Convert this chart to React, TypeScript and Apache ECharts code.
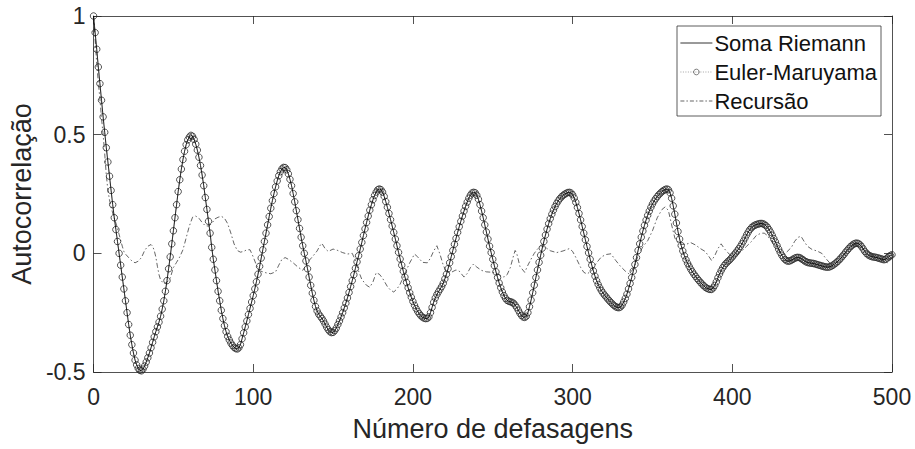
import React, { useEffect, useRef } from "react";
import * as echarts from "echarts";

// Autocorrelation, one value per lag (0..500)
const eulerMaruyama: number[] = [
  1.0, 0.93, 0.86, 0.785, 0.715, 0.645, 0.575, 0.51, 0.445, 0.385,
  0.325, 0.265, 0.205, 0.15, 0.1, 0.05, 0.0, -0.05, -0.1, -0.15,
  -0.2, -0.25, -0.3, -0.345, -0.385, -0.42, -0.45, -0.47, -0.485, -0.493,
  -0.495, -0.488, -0.475, -0.458, -0.44, -0.42, -0.398, -0.375, -0.352, -0.33,
  -0.31, -0.29, -0.265, -0.235, -0.2, -0.16, -0.115, -0.065, -0.015, 0.04,
  0.095, 0.15, 0.205, 0.26, 0.31, 0.355, 0.395, 0.43, 0.458, 0.478,
  0.49, 0.497, 0.493, 0.48, 0.46, 0.435, 0.405, 0.37, 0.33, 0.285,
  0.235, 0.185, 0.135, 0.085, 0.025, -0.025, -0.07, -0.115, -0.16, -0.2,
  -0.24, -0.275, -0.305, -0.33, -0.35, -0.365, -0.378, -0.388, -0.396, -0.401,
  -0.403, -0.398, -0.385, -0.36, -0.335, -0.31, -0.285, -0.258, -0.232, -0.205,
  -0.178, -0.15, -0.12, -0.088, -0.055, -0.02, 0.015, 0.05, 0.085, 0.12,
  0.155, 0.19, 0.222, 0.252, 0.28, 0.305, 0.327, 0.344, 0.356, 0.362,
  0.361, 0.352, 0.335, 0.312, 0.285, 0.252, 0.217, 0.18, 0.142, 0.105,
  0.068, 0.032, 0.0, -0.032, -0.065, -0.1, -0.135, -0.168, -0.198, -0.224,
  -0.243, -0.256, -0.265, -0.274, -0.285, -0.298, -0.311, -0.322, -0.33, -0.334,
  -0.333, -0.326, -0.315, -0.3, -0.285, -0.268, -0.25, -0.23, -0.21, -0.188,
  -0.165, -0.14, -0.115, -0.09, -0.063, -0.036, -0.01, 0.018, 0.046, 0.075,
  0.103, 0.13, 0.157, 0.182, 0.205, 0.226, 0.244, 0.258, 0.268, 0.271,
  0.268, 0.258, 0.24, 0.218, 0.194, 0.168, 0.142, 0.115, 0.088, 0.06,
  0.032, 0.004, -0.024, -0.05, -0.076, -0.1, -0.123, -0.145, -0.166, -0.185,
  -0.203, -0.219, -0.233, -0.245, -0.255, -0.263, -0.269, -0.273, -0.275, -0.274,
  -0.268, -0.25, -0.228, -0.206, -0.188, -0.174, -0.162, -0.151, -0.14, -0.126,
  -0.108, -0.088, -0.065, -0.04, -0.014, 0.012, 0.038, 0.063, 0.088, 0.112,
  0.135, 0.157, 0.178, 0.198, 0.216, 0.232, 0.245, 0.254, 0.257, 0.255,
  0.245, 0.228, 0.205, 0.178, 0.15, 0.12, 0.09, 0.06, 0.03, 0.003,
  -0.025, -0.052, -0.078, -0.102, -0.125, -0.145, -0.163, -0.178, -0.19, -0.198,
  -0.202, -0.204, -0.206, -0.21, -0.218, -0.228, -0.24, -0.252, -0.262, -0.268,
  -0.27, -0.265, -0.25, -0.225, -0.197, -0.166, -0.134, -0.102, -0.07, -0.038,
  -0.008, 0.022, 0.05, 0.077, 0.102, 0.125, 0.146, 0.165, 0.182, 0.197,
  0.21, 0.221, 0.23, 0.238, 0.244, 0.249, 0.253, 0.256, 0.257, 0.254,
  0.247, 0.233, 0.215, 0.193, 0.168, 0.141, 0.113, 0.085, 0.057, 0.029,
  0.002, -0.025, -0.05, -0.074, -0.096, -0.115, -0.131, -0.145, -0.157, -0.167,
  -0.176, -0.184, -0.192, -0.2, -0.207, -0.214, -0.22, -0.225, -0.228, -0.229,
  -0.226, -0.218, -0.205, -0.19, -0.172, -0.15, -0.127, -0.102, -0.075, -0.047,
  -0.018, 0.012, 0.04, 0.068, 0.094, 0.118, 0.14, 0.16, 0.178, 0.194,
  0.208, 0.22, 0.23, 0.239, 0.247, 0.254, 0.26, 0.265, 0.269, 0.271,
  0.268, 0.255, 0.232, 0.2, 0.165, 0.128, 0.092, 0.06, 0.033, 0.01,
  -0.01, -0.027, -0.042, -0.055, -0.067, -0.078, -0.088, -0.097, -0.106, -0.114,
  -0.122, -0.129, -0.136, -0.142, -0.147, -0.15, -0.152, -0.152, -0.146, -0.135,
  -0.12, -0.103, -0.087, -0.073, -0.061, -0.051, -0.043, -0.036, -0.03, -0.023,
  -0.015, -0.007, 0.001, 0.01, 0.019, 0.029, 0.04, 0.052, 0.065, 0.078,
  0.09, 0.1, 0.108, 0.114, 0.118, 0.121, 0.123, 0.125, 0.126, 0.125,
  0.122, 0.117, 0.11, 0.1, 0.089, 0.076, 0.062, 0.048, 0.033, 0.018,
  0.004, -0.008, -0.018, -0.026, -0.031, -0.033, -0.032, -0.029, -0.025, -0.021,
  -0.018, -0.017, -0.018, -0.021, -0.026, -0.031, -0.035, -0.038, -0.04, -0.041,
  -0.042, -0.043, -0.045, -0.047, -0.049, -0.051, -0.053, -0.055, -0.057, -0.058,
  -0.058, -0.057, -0.054, -0.05, -0.045, -0.04, -0.034, -0.027, -0.02, -0.012,
  -0.004, 0.005, 0.013, 0.021, 0.028, 0.034, 0.039, 0.042, 0.043, 0.041,
  0.036, 0.028, 0.018, 0.008, 0.0, -0.006, -0.01, -0.013, -0.015, -0.016,
  -0.017, -0.019, -0.021, -0.023, -0.025, -0.027, -0.025, -0.02, -0.014, -0.009,
  -0.006,
];

// The Riemann-sum curve coincides with the Euler-Maruyama one in the figure
const somaRiemann: number[] = eulerMaruyama;

// Recursion curve: lags and values
const recursaoLags: number[] = [
  0, 1, 2, 3, 4, 5, 6, 7, 8, 9, 10, 11, 12, 13, 14, 15, 16, 17, 18, 19, 20, 22, 24, 26, 28, 30,
  32, 34, 36, 37, 38, 39, 40, 41, 42, 44, 46, 48, 50, 52, 54, 56, 58, 60, 62, 64, 66, 68, 70,
  72, 74, 76, 78, 80, 82, 84, 86, 88, 90, 92, 94, 96, 98, 100, 102, 104, 106, 108, 111, 114,
  116, 118, 120, 122, 125, 128, 131, 133, 135, 137, 140, 142, 143, 145, 147, 150, 153, 156,
  159, 162, 164, 166, 168, 171, 173, 175, 177, 179, 181, 184, 186, 188, 190, 192, 195, 198,
  201, 203, 206, 209, 211, 213, 215, 217, 219, 221, 224, 227, 229, 232, 234, 236, 238, 240,
  243, 246, 250, 253, 257, 259, 261, 263, 264, 265, 267, 270, 272, 274, 276, 278, 280, 283,
  286, 290, 294, 298, 300, 302, 305, 307, 309, 312, 315, 318, 321, 324, 327, 330, 333, 335,
  337, 339, 341, 344, 347, 350, 353, 356, 358, 360, 362, 364, 366, 368, 371, 374, 377, 380,
  383, 385, 387, 389, 391, 393, 395, 397, 400, 403, 406, 409, 412, 415, 418, 420, 422, 424,
  427, 430, 432, 434, 437, 439, 441, 443, 445, 447, 450, 453, 456, 459, 462, 465, 468, 471,
  474, 477, 479, 482, 485, 488, 491, 494, 497, 500,
];
const recursaoValues: number[] = [
  1.0, 0.9, 0.8, 0.72, 0.65, 0.57, 0.5, 0.42, 0.33, 0.265, 0.225, 0.195, 0.17, 0.148, 0.128, 0.105, 0.08, 0.055, 0.03, 0.008, -0.003, -0.018, -0.032, -0.04, -0.033, -0.018,
  0.012, 0.03, 0.037, 0.03, 0.012, -0.015, -0.055, -0.09, -0.112, -0.128, -0.122, -0.105, -0.06, -0.038, -0.015, 0.015, 0.065, 0.115, 0.152, 0.157, 0.148, 0.13, 0.116,
  0.115, 0.125, 0.145, 0.152, 0.156, 0.148, 0.125, 0.085, 0.04, 0.012, 0.005, 0.008, 0.015, 0.015, -0.015, -0.05, -0.073, -0.078, -0.082, -0.086, -0.078,
  -0.05, -0.025, -0.018, -0.025, -0.04, -0.058, -0.072, -0.05, -0.03, -0.015, 0.01, 0.035, 0.042, 0.02, 0.008, 0.018, 0.012, 0.003,
  -0.003, 0.0, -0.03, -0.075, -0.11, -0.135, -0.143, -0.12, -0.082, -0.088, -0.105, -0.14, -0.155, -0.163, -0.15, -0.13, -0.085, -0.04,
  -0.003, -0.015, -0.038, -0.04, -0.02, 0.01, 0.032, -0.005, -0.05, -0.078, -0.08, -0.07, -0.075, -0.1, -0.085, -0.06, -0.045, -0.058,
  -0.072, -0.078, -0.08, -0.087, -0.1, -0.09, -0.06, -0.01, 0.012, 0.0, -0.055, -0.08, -0.05, -0.024, 0.0, 0.018, 0.032, 0.025,
  0.011, 0.003, 0.01, 0.02, 0.008, -0.017, -0.059, -0.08, -0.087, -0.073, -0.04, -0.015, -0.005, -0.002, -0.03, -0.055, -0.075, -0.085,
  -0.075, -0.05, -0.01, 0.028, 0.053, 0.095, 0.15, 0.185, 0.196, 0.18, 0.12, 0.065, 0.042, 0.038, 0.038, 0.045, 0.035, 0.02,
  0.008, -0.01, -0.03, -0.01, 0.02, 0.04, 0.02, 0.004, -0.015, -0.005, 0.01, 0.03, 0.05, 0.075, 0.085, 0.085, 0.075, 0.055,
  0.03, 0.005, -0.003, 0.005, 0.025, 0.05, 0.067, 0.072, 0.05, 0.03, 0.016, 0.01, 0.0, -0.025, -0.048, -0.04, -0.022, 0.002,
  0.025, 0.04, 0.04, 0.02, 0.005, -0.01, -0.02, -0.03, -0.04, -0.022,
];

const seriesNames: string[] = ["Soma Riemann", "Euler-Maruyama", "Recursão"];
const xTicks: number[] = [0, 100, 200, 300, 400, 500];
const yTicks: number[] = [-0.5, 0, 0.5, 1];

const FONT = "'Liberation Sans', Arial, Helvetica, sans-serif";
const TEXT = "#262626";
const AXIS = "#262626";

export default function App() {
  const ref = useRef<HTMLDivElement>(null);

  useEffect(() => {
    if (!ref.current) return;
    const chart = echarts.init(ref.current, undefined, { renderer: "svg" });

    const riemannData = somaRiemann.map((v, i) => [i, v]);
    const eulerData = eulerMaruyama.map((v, i) => [i, v]);
    const recData = recursaoLags.map((x, i) => [x, recursaoValues[i]]);

    const axisLine = { show: true, onZero: false, lineStyle: { color: AXIS, width: 0.8 } };
    const axisTick = { show: true, inside: true, length: 8, lineStyle: { color: AXIS, width: 0.8 } };

    chart.setOption({
      animation: false,
      backgroundColor: "#ffffff",
      grid: { left: 89, right: 23, top: 16, bottom: 77, containLabel: false },
      legend: {
        orient: "vertical",
        left: 677,
        top: 26,
        itemWidth: 32,
        itemHeight: 7,
        itemGap: 7,
        padding: [6, 4, 4, 3],
        backgroundColor: "#ffffff",
        borderColor: "#333333",
        borderWidth: 0.8,
        borderRadius: 0,
        textStyle: { fontSize: 22, color: "#111111", fontFamily: FONT, padding: [0, 0, 0, -3] },
        data: [
          {
            name: seriesNames[0],
            itemStyle: { color: "rgba(0,0,0,0)", borderWidth: 0 },
            lineStyle: { width: 0.8, color: "#000000", type: "solid" },
          },
          {
            name: seriesNames[1],
            itemStyle: { color: "rgba(0,0,0,0)", borderColor: "#444444", borderWidth: 0.7 },
            lineStyle: { width: 0.6, color: "#666666", type: [1, 1.5] },
          },
          {
            name: seriesNames[2],
            itemStyle: { color: "rgba(0,0,0,0)", borderWidth: 0 },
            lineStyle: { width: 0.7, color: "#222222", type: [4, 2, 1.5, 2] },
          },
        ],
      },
      xAxis: [
        {
          type: "value",
          position: "bottom",
          min: xTicks[0],
          max: xTicks[xTicks.length - 1],
          interval: 100,
          name: "Número de defasagens",
          nameLocation: "middle",
          nameGap: 43,
          nameTextStyle: { fontSize: 27, color: TEXT, fontFamily: FONT },
          axisLine,
          axisTick,
          axisLabel: { fontSize: 23, color: TEXT, fontFamily: FONT, margin: 13 },
          splitLine: { show: false },
        },
        {
          type: "value",
          position: "top",
          min: xTicks[0],
          max: xTicks[xTicks.length - 1],
          interval: 100,
          axisLine,
          axisTick,
          axisLabel: { show: false },
          splitLine: { show: false },
        },
      ],
      yAxis: [
        {
          type: "value",
          position: "left",
          min: yTicks[0],
          max: yTicks[yTicks.length - 1],
          interval: 0.5,
          name: "Autocorrelação",
          nameLocation: "middle",
          nameGap: 52,
          nameTextStyle: { fontSize: 27, color: TEXT, fontFamily: FONT },
          axisLine,
          axisTick,
          axisLabel: { fontSize: 23, color: TEXT, fontFamily: FONT, margin: 8 },
          splitLine: { show: false },
        },
        {
          type: "value",
          position: "right",
          min: yTicks[0],
          max: yTicks[yTicks.length - 1],
          interval: 0.5,
          axisLine,
          axisTick,
          axisLabel: { show: false },
          splitLine: { show: false },
        },
      ],
      series: [
        {
          name: seriesNames[0],
          type: "line",
          data: riemannData,
          symbol: "none",
          lineStyle: { color: "#000000", width: 0.8, type: "solid" },
          itemStyle: { color: "#000000" },
          z: 3,
        },
        {
          name: seriesNames[1],
          type: "line",
          data: eulerData,
          symbol: "circle",
          symbolSize: 6.5,
          showSymbol: true,
          showAllSymbol: true,
          lineStyle: { color: "#333333", width: 0.6, type: "dotted" },
          itemStyle: { color: "rgba(0,0,0,0)", borderColor: "#2a2a2a", borderWidth: 0.8 },
          z: 2,
        },
        {
          name: seriesNames[2],
          type: "line",
          data: recData,
          symbol: "none",
          lineStyle: { color: "#222222", width: 0.7, type: [5, 2.5, 1.5, 2.5] },
          itemStyle: { color: "#222222" },
          z: 1,
        },
      ],
    });

    return () => chart.dispose();
  }, []);

  return (
    <div
      ref={ref}
      style={{ position: "fixed", left: 0, top: 0, width: 915, height: 449, background: "#fff" }}
    />
  );
}
